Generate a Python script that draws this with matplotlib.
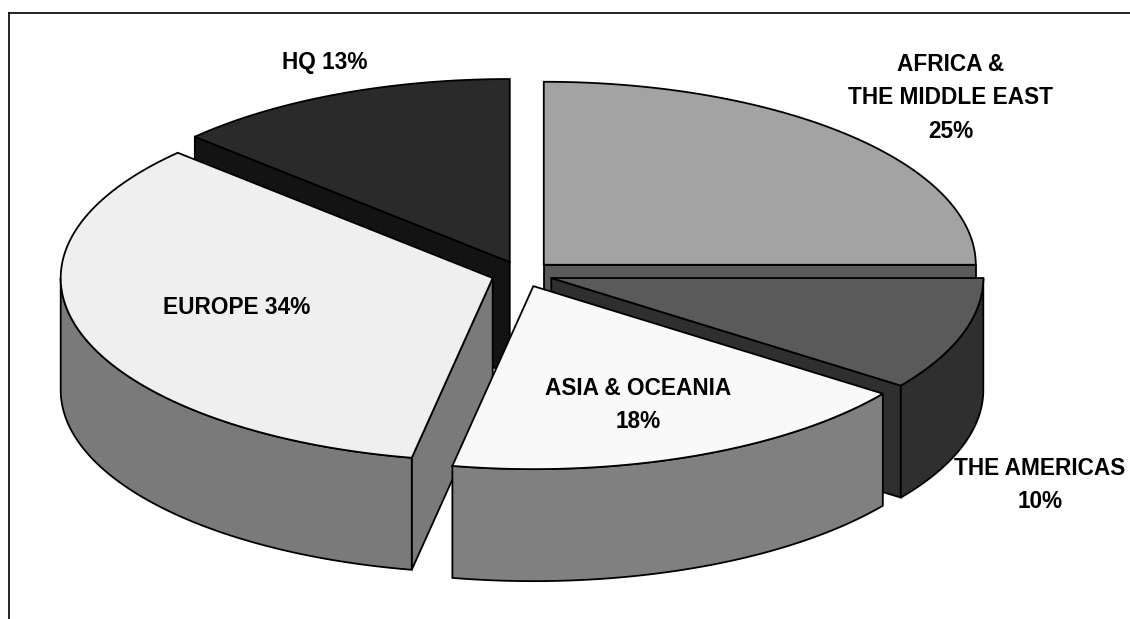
import numpy as np
import matplotlib
matplotlib.use("Agg")
import matplotlib.pyplot as plt
from matplotlib.patches import Polygon
from matplotlib.lines import Line2D

# ---- data ----
regions = ["AFRICA &\nTHE MIDDLE EAST", "THE AMERICAS", "ASIA & OCEANIA", "EUROPE", "HQ"]
shares = [25, 10, 18, 34, 13]
labels = ["AFRICA &\nTHE MIDDLE EAST\n25%", "THE AMERICAS\n10%", "ASIA & OCEANIA\n18%",
          "EUROPE 34%", "HQ 13%"]
top_colors = ["#a3a3a3", "#5a5a5a", "#f9f9f9", "#efefef", "#2a2a2a"]
wall_colors = ["#5a5a5a", "#2f2f2f", "#808080", "#7a7a7a", "#131313"]
# label positions (pixel layout coordinates)
label_pos = [(951, 98), (1040, 485), (638, 405), (237, 308), (325, 63)]

# ---- layout ----
W, H = 1130, 619
cx, cy = 522, 274       # pie centre (before explosion)
a, b = 432, 183         # ellipse semi-axes
depth = 112             # thickness of pie
explode = 0.0713        # radial explosion (fraction of radius)

fig = plt.figure(figsize=(W / 100, H / 100), dpi=100)
ax = fig.add_axes([0, 0, 1, 1])
ax.set_xlim(0, W)
ax.set_ylim(H, 0)
ax.axis("off")


def rim(theta_deg, ox, oy, dz=0.0):
    t = np.radians(theta_deg)
    return ox + a * np.sin(t), oy - b * np.cos(t) + dz


lw = 1.3
total = float(sum(shares))
bounds = np.concatenate([[0], np.cumsum(shares)]) / total * 360.0
slices = []
for i in range(len(shares)):
    s, e = bounds[i], bounds[i + 1]
    mid = 0.5 * (s + e)
    ox = cx + explode * a * np.sin(np.radians(mid))
    oy = cy - explode * b * np.cos(np.radians(mid))
    slices.append((i, s, e, mid, ox, oy))

# painter's order: back to front
order = sorted(slices, key=lambda t: -np.cos(np.radians(t[3])))

for (i, s, e, mid, ox, oy) in order:
    wc = wall_colors[i]
    # radial walls
    for edge, normal in ((s, s - 90.0), (e, e + 90.0)):
        if np.cos(np.radians(normal)) < -1e-6:
            x1, y1 = rim(edge, ox, oy)
            poly = [(ox, oy), (x1, y1), (x1, y1 + depth), (ox, oy + depth)]
            ax.add_patch(Polygon(poly, closed=True, facecolor=wc, edgecolor="black",
                                 linewidth=lw, joinstyle="miter"))
    # outer curved wall (front half only)
    lo, hi = max(s, 90.0), min(e, 270.0)
    if hi > lo:
        th = np.linspace(lo, hi, 120)
        xs, ys = rim(th, ox, oy)
        poly = np.vstack([np.column_stack([xs, ys]),
                          np.column_stack([xs[::-1], ys[::-1] + depth])])
        ax.add_patch(Polygon(poly, closed=True, facecolor=wc, edgecolor="black",
                             linewidth=lw, joinstyle="miter"))
    # top face
    th = np.linspace(s, e, 200)
    xs, ys = rim(th, ox, oy)
    poly = np.vstack([[ox, oy], np.column_stack([xs, ys])])
    ax.add_patch(Polygon(poly, closed=True, facecolor=top_colors[i], edgecolor="black",
                         linewidth=lw, joinstyle="miter"))

# labels
for txt, (lx, ly) in zip(labels, label_pos):
    ax.text(lx, ly, txt, ha="center", va="center", fontsize=16.3, fontweight="bold",
            family=["Liberation Sans", "DejaVu Sans"], linespacing=1.6, color="black",
            clip_on=False)

# outer frame (top and left edges visible)
ax.add_line(Line2D([8.5, W], [12.5, 12.5], color="black", linewidth=1.2))
ax.add_line(Line2D([8.5, 8.5], [12.5, H], color="black", linewidth=1.2))

fig.savefig("out.png", dpi=100)
